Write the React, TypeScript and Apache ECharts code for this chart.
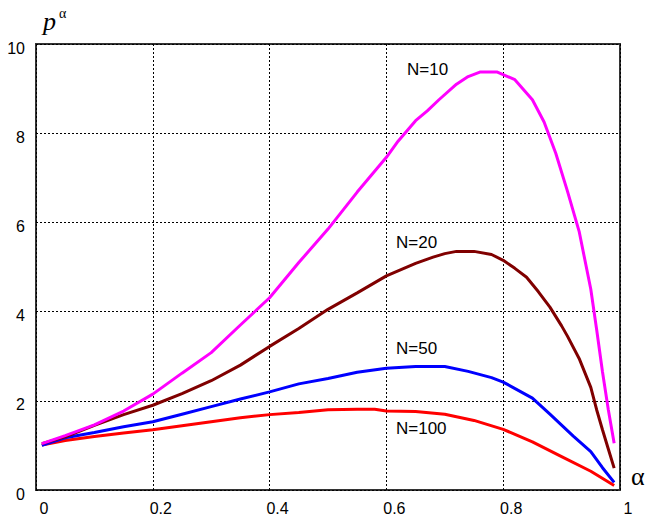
import React, { useEffect, useRef } from "react";
import * as echarts from "echarts";

const alphaN10 = [0.01, 0.05, 0.10, 0.15, 0.20, 0.25, 0.30, 0.35, 0.40, 0.45, 0.50, 0.55, 0.60, 0.62, 0.65, 0.67, 0.69, 0.72, 0.74, 0.76, 0.79, 0.82, 0.85, 0.87, 0.89, 0.91, 0.93, 0.95, 0.96, 0.97, 0.98, 0.99];
const valsN10 = [1.04, 1.22, 1.46, 1.77, 2.15, 2.62, 3.08, 3.70, 4.31, 5.10, 5.85, 6.68, 7.46, 7.82, 8.28, 8.50, 8.75, 9.10, 9.27, 9.37, 9.37, 9.20, 8.75, 8.25, 7.55, 6.70, 5.80, 4.50, 3.60, 2.65, 1.80, 1.05];

const alphaN20 = [0.01, 0.05, 0.10, 0.15, 0.20, 0.25, 0.30, 0.35, 0.40, 0.45, 0.50, 0.55, 0.60, 0.65, 0.68, 0.70, 0.72, 0.75, 0.78, 0.80, 0.82, 0.84, 0.86, 0.88, 0.90, 0.91, 0.93, 0.95, 0.96, 0.97, 0.98, 0.99];
const valsN20 = [1.04, 1.19, 1.45, 1.69, 1.90, 2.16, 2.45, 2.80, 3.22, 3.62, 4.05, 4.42, 4.80, 5.08, 5.22, 5.30, 5.35, 5.35, 5.28, 5.15, 4.97, 4.77, 4.45, 4.10, 3.68, 3.45, 2.95, 2.30, 1.80, 1.35, 0.92, 0.49];

const alphaN50 = [0.01, 0.05, 0.10, 0.15, 0.20, 0.25, 0.30, 0.35, 0.40, 0.45, 0.50, 0.55, 0.60, 0.65, 0.70, 0.74, 0.78, 0.80, 0.85, 0.88, 0.92, 0.95, 0.97, 0.99];
const valsN50 = [1.00, 1.17, 1.29, 1.42, 1.53, 1.70, 1.87, 2.04, 2.20, 2.38, 2.50, 2.64, 2.73, 2.77, 2.77, 2.66, 2.52, 2.42, 2.06, 1.70, 1.21, 0.86, 0.50, 0.17];

const alphaN100 = [0.01, 0.05, 0.10, 0.15, 0.20, 0.25, 0.30, 0.35, 0.40, 0.45, 0.50, 0.55, 0.58, 0.60, 0.65, 0.70, 0.75, 0.80, 0.85, 0.90, 0.95, 0.99];
const valsN100 = [1.01, 1.11, 1.20, 1.28, 1.35, 1.44, 1.53, 1.62, 1.69, 1.74, 1.80, 1.81, 1.81, 1.77, 1.76, 1.70, 1.56, 1.36, 1.08, 0.75, 0.42, 0.10];

const seriesNames = ["N=10", "N=20", "N=50", "N=100"];
const seriesColors = ["#ff00ff", "#800000", "#0000ff", "#ff0000"];

const zip = (xs: number[], ys: number[]) => xs.map((x, i) => [x, ys[i]]);

export default function App() {
  const ref = useRef<HTMLDivElement>(null);
  useEffect(() => {
    document.body.style.margin = "0";
    if (!ref.current) return;
    const chart = echarts.init(ref.current, null, { renderer: "svg" });
    const data = [
      zip(alphaN10, valsN10),
      zip(alphaN20, valsN20),
      zip(alphaN50, valsN50),
      zip(alphaN100, valsN100),
    ];
    const labelFont = "Liberation Sans, Arial, sans-serif";
    chart.setOption({
      animation: false,
      backgroundColor: "#ffffff",
      grid: {
        left: 36,
        right: 27,
        top: 44,
        bottom: 25,
        show: true,
        borderColor: "#333333",
        borderWidth: 2,
      },
      xAxis: {
        type: "value",
        min: 0,
        max: 1,
        interval: 0.2,
        axisLine: { show: false },
        axisTick: { show: false },
        splitLine: { show: true, lineStyle: { color: "#000", type: [2, 2], width: 1 } },
        axisLabel: {
          color: "#000",
          fontSize: 16,
          fontFamily: labelFont,
          margin: 10,
          padding: [0, 0, 0, 16],
          formatter: (v: number) => String(parseFloat(v.toFixed(1))),
        },
      },
      yAxis: {
        type: "value",
        min: 0,
        max: 10,
        interval: 2,
        axisLine: { show: false },
        axisTick: { show: false },
        splitLine: { show: true, lineStyle: { color: "#000", type: [2, 2], width: 1 } },
        axisLabel: {
          color: "#000",
          fontSize: 16,
          fontFamily: labelFont,
          margin: 11,
          formatter: (v: number) => "{v|" + v + "}",
          rich: {
            v: { fontSize: 16, fontFamily: labelFont, color: "#000", padding: [8, 0, 0, 0] },
          },
        },
      },
      series: data.map((d, i) => ({
        name: seriesNames[i],
        type: "line",
        data: d,
        showSymbol: false,
        symbol: "none",
        lineStyle: { color: seriesColors[i], width: 3 },
        z: 10 - i,
      })),
      graphic: [
        {
          type: "text",
          left: 43,
          top: 6,
          style: {
            text: "{p|p}{a|α}",
            rich: {
              p: { fontFamily: "Liberation Serif, Times New Roman, serif", fontStyle: "italic", fontSize: 26, fill: "#000", verticalAlign: "bottom" },
              a: { fontFamily: "Liberation Serif, Times New Roman, serif", fontSize: 14, fill: "#000", padding: [0, 0, 14, 3] },
            },
          },
        },
        {
          type: "text",
          left: 631,
          top: 463,
          style: { text: "α", fontFamily: "Liberation Serif, Times New Roman, serif", fontSize: 26, fill: "#000" },
        },
        { type: "text", left: 407, top: 61, style: { text: "N=10", font: "17px Liberation Sans, Arial, sans-serif", fill: "#000" } },
        { type: "text", left: 396, top: 234, style: { text: "N=20", font: "17px Liberation Sans, Arial, sans-serif", fill: "#000" } },
        { type: "text", left: 396, top: 340, style: { text: "N=50", font: "17px Liberation Sans, Arial, sans-serif", fill: "#000" } },
        { type: "text", left: 396, top: 420, style: { text: "N=100", font: "17px Liberation Sans, Arial, sans-serif", fill: "#000" } },
      ],
    });
    return () => chart.dispose();
  }, []);
  return <div ref={ref} style={{ width: 647, height: 516 }} />;
}
